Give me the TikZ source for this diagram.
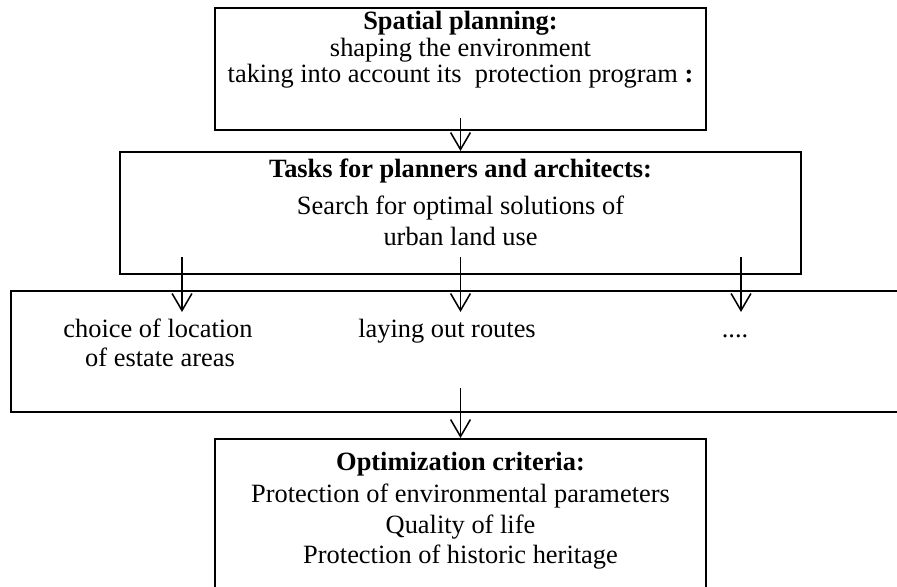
\documentclass[tikz,border=0pt]{standalone}
\usepackage{fontspec}
\setmainfont{Liberation Serif}
\usetikzlibrary{arrows.meta}
\def\u{0.4545pt}
\begin{document}
\begin{tikzpicture}[x=0.4545pt,y=-0.4545pt,
  box/.style={draw, line width=0.9pt, inner sep=0pt},
  txt/.style={font=\fontsize{12}{13.8}\selectfont, inner sep=0pt, anchor=base},
  ttl/.style={txt, font=\fontsize{12}{13.8}\selectfont\bfseries},
  arr/.style={-{Straight Barb[length=7.7pt,width=9pt]}, line width=0.7pt}]
\useasboundingbox (0,0) rectangle (897,586);
% boxes
\node[box, minimum width=491*\u, minimum height=122*\u] (b1) at (460.5,69) {};
\node[box, minimum width=681*\u, minimum height=122*\u] (b2) at (460.5,213) {};
\node[box, line width=1.35pt, minimum width=909*\u, minimum height=121*\u] (b3) at (465.5,351.5) {};
\node[box, minimum width=491*\u, minimum height=161*\u] (b4) at (460.5,519.5) {};
% texts
\node[ttl] (t1a) at (460.5,30) {Spatial planning:};
\node[txt] (t1b) at (460.5,57) {shaping the environment};
\node[txt] (t1c) at (460.5,83) {taking into account its\ \ protection program \textbf{:}};
\node[ttl] (t2a) at (460.5,178) {Tasks for planners and architects:};
\node[txt] (t2b) at (460.5,214) {Search for optimal solutions of};
\node[txt] (t2c) at (460.5,245) {urban land use};
\node[txt] (t3a) at (158,337) {choice of location};
\node[txt] (t3b) at (160,366) {of estate areas};
\node[txt] (t3c) at (447,337) {laying out routes};
\node[txt] (t3d) at (735,337) {....};
\node[ttl] (t4a) at (460.5,470) {Optimization criteria:};
\node[txt] (t4b) at (460.5,502) {Protection of environmental parameters};
\node[txt] (t4c) at (460.5,533) {Quality of life};
\node[txt] (t4d) at (460.5,563) {Protection of historic heritage};
% connectors
\coordinate (s1) at (460.5,118);
\coordinate (s2) at (182,257);
\coordinate (e2) at (182,312);
\coordinate (s3) at (460.5,257);
\coordinate (e3) at (460.5,312);
\coordinate (s4) at (741,257);
\coordinate (e4) at (741,312);
\coordinate (s5) at (460.5,388);
\draw[arr] (s1) -- (b2.north);
\draw[arr] (s2) -- (e2);
\draw[arr] (s3) -- (e3);
\draw[arr] (s4) -- (e4);
\draw[arr] (s5) -- (b4.north);
\end{tikzpicture}
\end{document}
